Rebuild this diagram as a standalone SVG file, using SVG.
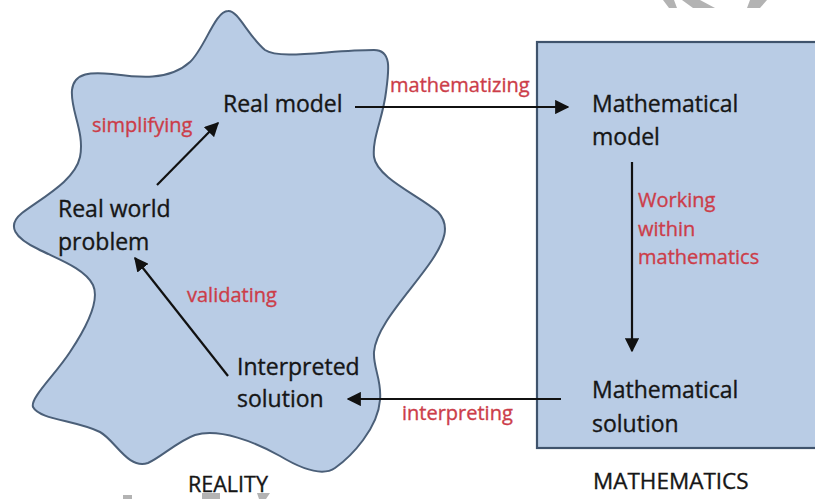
<svg xmlns="http://www.w3.org/2000/svg" width="815" height="499" viewBox="0 0 815 499">
<style>
  .node-text { font-family: "Open Sans", "Liberation Sans", sans-serif; font-size: 23px; fill: #161616; stroke: #161616; stroke-width: 0.35; }
  .label { font-family: "Open Sans", "Liberation Sans", sans-serif; font-size: 20px; fill: #cc3d49; stroke: #cc3d49; stroke-width: 0.35; }
  .shape { fill: #b9cce5; stroke: #4b5f78; stroke-width: 2; }
  .conn { stroke: #111; stroke-width: 2.2; fill: none; marker-end: url(#arrow); }
  .wm { fill: #b3b3b3; }
</style>
<defs>
  <marker id="arrow" viewBox="0 0 10 10" refX="9" refY="5" markerWidth="6.5" markerHeight="6.5" orient="auto" markerUnits="strokeWidth">
    <path d="M0,0 L10,5 L0,10 Z" fill="#111"/>
  </marker>
</defs>
<rect width="815" height="499" fill="#ffffff"/>

<g id="watermark">
  <polygon class="wm" points="663,0 674,0 677,8 669,8"/>
  <polygon class="wm" points="682,0 700,0 715,8 693,8"/>
  <polygon class="wm" points="750,0 767,0 760,8 747,8"/>
  <rect class="wm" x="123" y="495" width="9" height="4"/>
  <polygon class="wm" points="202,493 220,493 220,499 202,499"/>
  <polygon class="wm" points="257,493 270,493 266,499 259,499"/>
</g>

<g id="reality">
  <path class="shape" d="M228,11
    C238,10 248,36 265,50
    C280,60 330,50 374,50
    C392,50 389,70 386,92
    C383,118 372,138 374,157
    C377,178 420,196 438,212
    C451,226 444,242 432,260
    C412,290 376,325 374,352
    C373,368 382,380 380,400
    C378,428 352,456 335,468
    C322,477 300,468 280,456
    C255,442 220,428 195,435
    C178,441 160,458 148,463
    C128,470 115,440 100,432
    C75,420 40,420 33,407
    C30,398 55,375 70,352
    C88,325 100,300 93,285
    C85,268 55,258 38,249
    C15,238 6,226 22,213
    C45,196 75,180 80,157
    C85,132 70,110 72,90
    C74,72 92,72 112,74
    C135,77 168,82 190,62
    C205,48 215,11 228,11 Z"/>
  <text class="node-text" x="188" y="492" style="font-size:21.5px">REALITY</text>
</g>

<g id="mathematics">
  <rect class="shape" x="537" y="42" width="290" height="406" style="stroke:#3f536c;stroke-width:2.2"/>
  <text class="node-text" x="593" y="489" style="font-size:22.5px">MATHEMATICS</text>
</g>

<g id="real-model">
  <text class="node-text" x="223" y="112">Real model</text>
</g>
<g id="real-world-problem">
  <text class="node-text" x="58" y="217">Real world</text>
  <text class="node-text" x="58" y="250">problem</text>
</g>
<g id="interpreted-solution">
  <text class="node-text" x="237" y="375">Interpreted</text>
  <text class="node-text" x="237" y="407">solution</text>
</g>
<g id="mathematical-model">
  <text class="node-text" x="592" y="112">Mathematical</text>
  <text class="node-text" x="592" y="145">model</text>
</g>
<g id="mathematical-solution">
  <text class="node-text" x="592" y="398">Mathematical</text>
  <text class="node-text" x="592" y="432">solution</text>
</g>

<g id="connectors">
  <line class="conn" x1="157" y1="185" x2="218" y2="123"/>
  <line class="conn" x1="355" y1="107" x2="568" y2="107"/>
  <line class="conn" x1="632" y1="162" x2="632" y2="351"/>
  <line class="conn" x1="561" y1="399" x2="348" y2="399"/>
  <line class="conn" x1="228" y1="376" x2="135" y2="258"/>
</g>

<g id="labels">
  <text class="label" x="92" y="132">simplifying</text>
  <text class="label" x="390" y="92">mathematizing</text>
  <text class="label" x="638" y="207">Working</text>
  <text class="label" x="638" y="236">within</text>
  <text class="label" x="638" y="264">mathematics</text>
  <text class="label" x="402" y="420">interpreting</text>
  <text class="label" x="187" y="302">validating</text>
</g>
</svg>
